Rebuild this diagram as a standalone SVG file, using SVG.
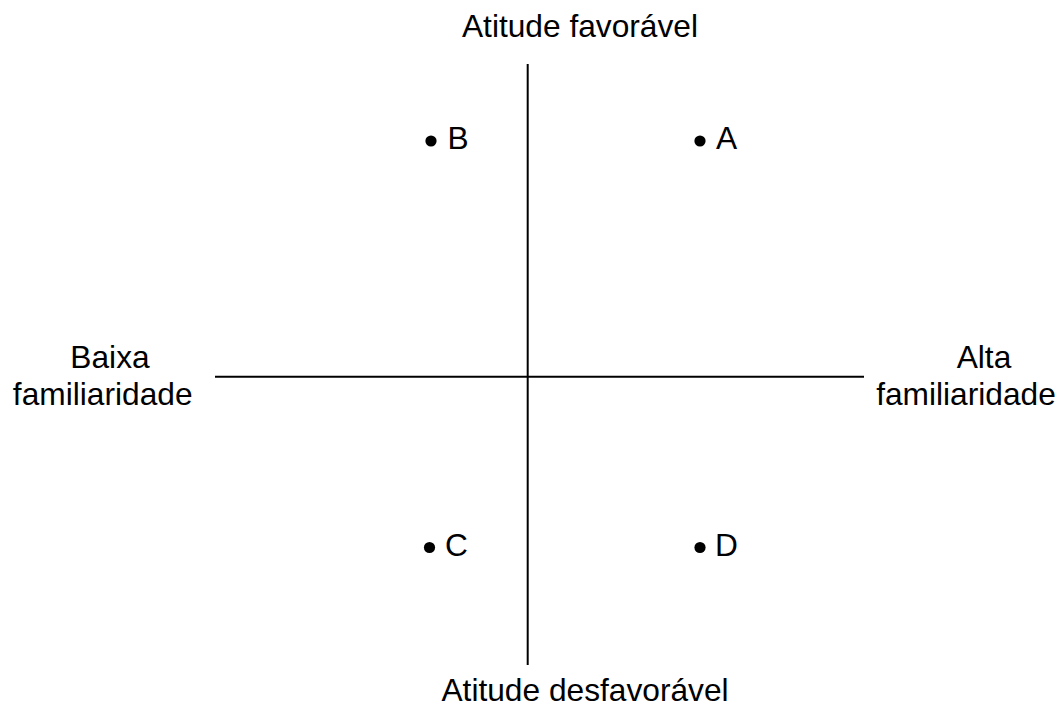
<svg xmlns="http://www.w3.org/2000/svg" width="1060" height="706" viewBox="0 0 1060 706">
<style>
text{font-family:"Liberation Sans",Arial,sans-serif;font-size:31.7px;fill:#000}
.axis{stroke:#000;stroke-width:2;fill:none}
.dot{fill:#000}
</style>
<rect width="1060" height="706" fill="#fff"/>
<g id="connectors">
<line class="axis" x1="527.7" y1="64" x2="527.7" y2="665"/>
<line class="axis" x1="215" y1="376.7" x2="864" y2="376.7"/>
</g>
<g id="label-top"><text x="580" y="37" text-anchor="middle">Atitude favorável</text></g>
<g id="label-bottom"><text x="585" y="701" text-anchor="middle">Atitude desfavorável</text></g>
<g id="label-left"><text x="110" y="368" text-anchor="middle">Baixa</text><text x="102.7" y="404.5" text-anchor="middle">familiaridade</text></g>
<g id="label-right"><text x="984" y="368" text-anchor="middle">Alta</text><text x="966" y="404.5" text-anchor="middle">familiaridade</text></g>
<g id="node-B"><circle class="dot" cx="431" cy="141" r="5.6"/><text x="447.5" y="149">B</text></g>
<g id="node-A"><circle class="dot" cx="700" cy="141" r="5.6"/><text x="716" y="149">A</text></g>
<g id="node-C"><circle class="dot" cx="429.5" cy="547.5" r="5.6"/><text x="445" y="556">C</text></g>
<g id="node-D"><circle class="dot" cx="700" cy="547.5" r="5.6"/><text x="715" y="556">D</text></g>
</svg>
